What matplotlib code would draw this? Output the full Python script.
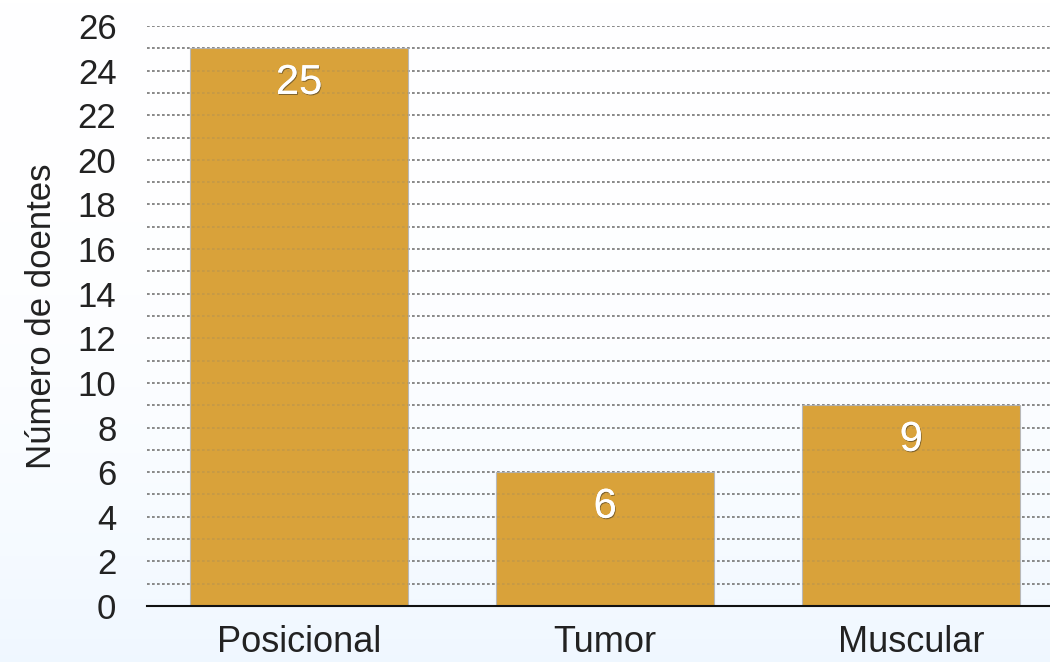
import matplotlib
matplotlib.use('Agg')
import matplotlib.pyplot as plt
import matplotlib.patheffects as pe
import numpy as np

categorias = ['Posicional', 'Tumor', 'Muscular']
doentes = [25, 6, 9]
yticks = list(range(0, 27, 2))

plt.rcParams['font.family'] = ['Liberation Sans', 'DejaVu Sans']

fig = plt.figure(figsize=(10.5, 6.62), dpi=100)
ax = fig.add_axes([0.14, 0.0846, 0.86, 0.8761])

# faint bluish haze near the bottom of the slide
bg = fig.add_axes([0, 0, 1, 1], zorder=-10)
grad = np.linspace(0, 1, 200)[:, None] ** 2.5
bg.imshow(np.dstack([1 - 0.06 * grad, 1 - 0.03 * grad, np.ones_like(grad)]),
          aspect='auto', extent=[0, 1, 0, 1], origin='upper')
bg.axis('off')
ax.patch.set_alpha(0)

x = np.arange(len(categorias))
bars = ax.bar(x, doentes, width=0.712, color='#D9A23A', edgecolor='#b8b8b8',
              linewidth=0.8, zorder=2)

# dotted grid every unit, behind the bars and faintly on top of them
for v in range(1, 27):
    ax.axhline(v, color='#7a7a7a', linestyle=(0, (1.6, 1.4)), linewidth=1.2, zorder=1)
    ax.axhline(v, color='#7a7a7a', linestyle=(0, (1.6, 1.4)), linewidth=1.2, alpha=0.22, zorder=3)

for b, v in zip(bars, doentes):
    ax.text(b.get_x() + b.get_width() / 2, v - 1.55, str(v), ha='center', va='center',
            fontsize=30, color='white', zorder=4,
            path_effects=[pe.withSimplePatchShadow(offset=(0.6, -0.8), shadow_rgbFace='#5a4a2a', alpha=0.7),
                          pe.Normal()])

ax.set_xlim(-0.497, 2.453)
ax.set_ylim(0, 26)
ax.set_yticks(yticks)
ax.set_xticks(x)
ax.set_xticklabels(categorias)
ax.tick_params(axis='both', length=0, labelsize=25, colors='#222222')
ax.tick_params(axis='x', labelsize=26, pad=14)
ax.tick_params(axis='y', pad=22)
ax.set_ylabel('Número de doentes', fontsize=25, color='#222222', labelpad=14)

for s in ['top', 'right', 'left']:
    ax.spines[s].set_visible(False)
ax.spines['bottom'].set_color('#111111')
ax.spines['bottom'].set_linewidth(1.5)
ax.spines['bottom'].set_zorder(5)

fig.savefig('out.png', dpi=100)
